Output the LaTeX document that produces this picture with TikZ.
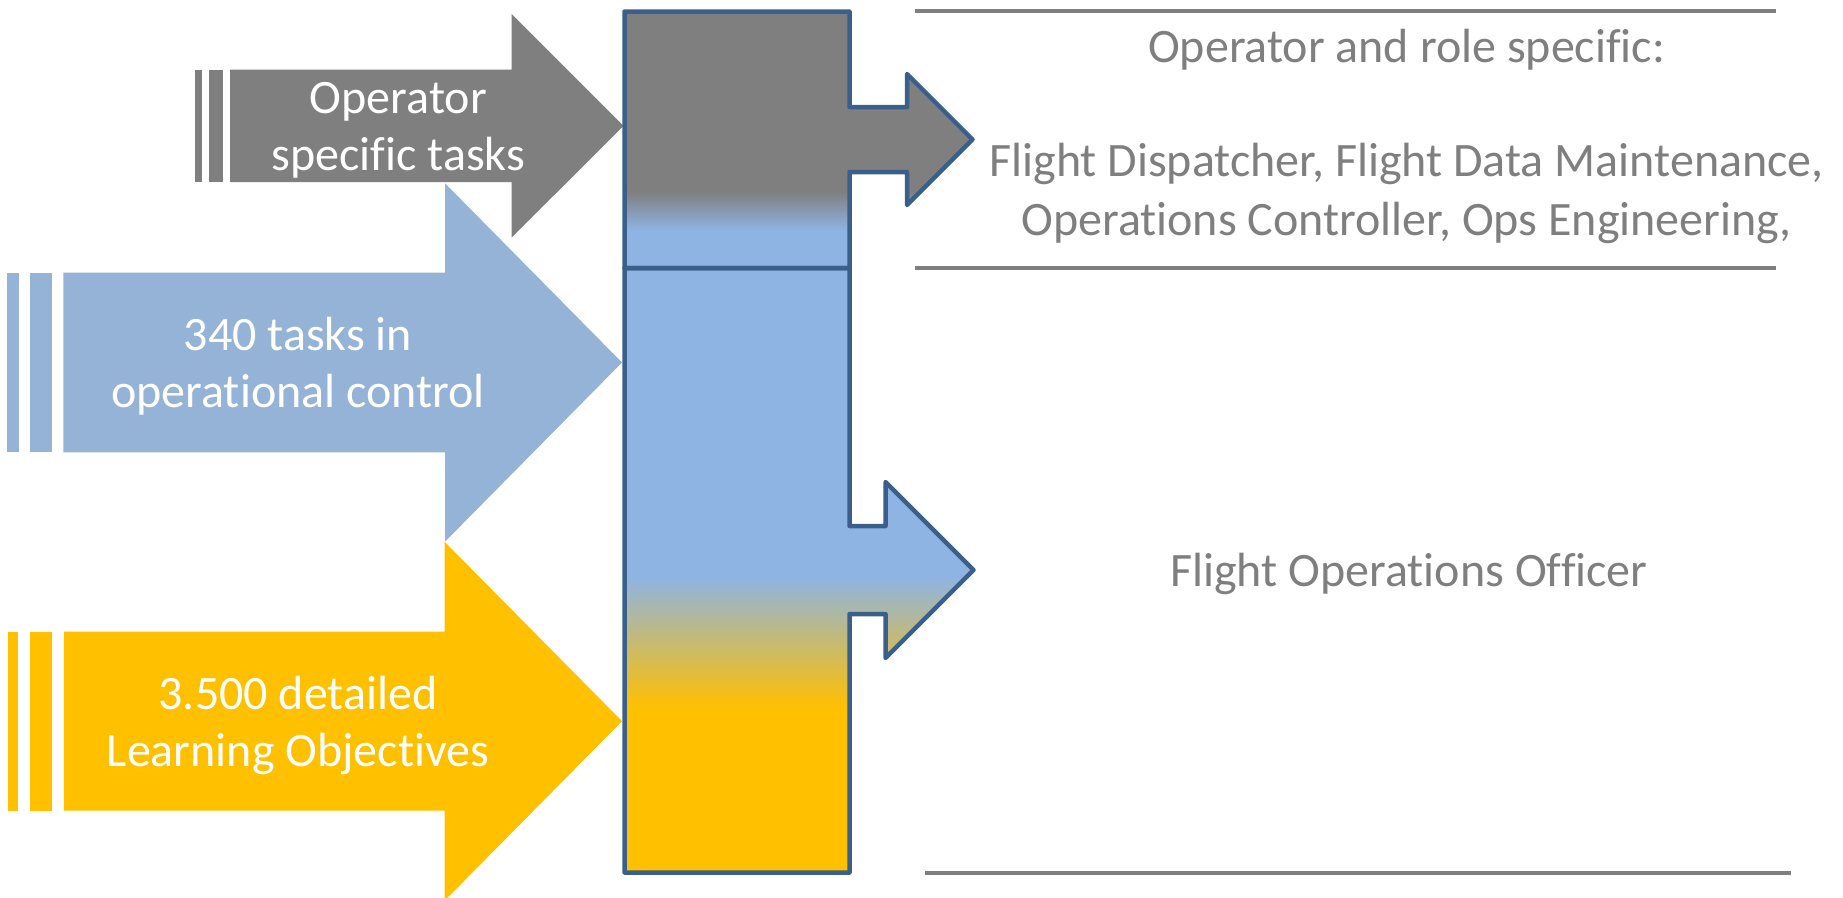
\documentclass[tikz,border=0pt]{standalone}
\usepackage{fontspec}
\setmainfont{Carlito}[Ligatures=NoCommon]
\definecolor{grayA}{HTML}{7F7F7F}
\definecolor{blueA}{HTML}{95B3D7}
\definecolor{colBlue}{HTML}{8EB4E3}
\definecolor{yellowA}{HTML}{FFC000}
\definecolor{outlineC}{HTML}{3A5F8B}
\definecolor{textGray}{HTML}{7F7F7F}
\tikzset{
  lbl/.style={text=white, inner sep=0pt, anchor=base, font=\fontsize{48}{56}\selectfont},
  rtext/.style={text=textGray, inner sep=0pt, anchor=base, font=\fontsize{48}{56}\selectfont},
  colline/.style={draw=outlineC, line width=4.5pt, line join=round},
  rulel/.style={draw=grayA, line width=4pt},
}
\begin{document}
\begin{tikzpicture}[x=1pt,y=-1pt]
\useasboundingbox (0,0) rectangle (1843,897);
\clip (0,0) rectangle (1843,897);
% ---------- left arrows ----------
% gray
\fill[grayA] (194.6,69.5) rectangle (202,182);
\fill[grayA] (208.8,69.5) rectangle (222.9,182);
\fill[grayA] (230.2,69.5) -- (511.6,69.5) -- (511.6,14) -- (623.5,125.8) -- (511.6,237.6) -- (511.6,182) -- (230.2,182) -- cycle;
% blue
\fill[blueA] (7.1,272.7) rectangle (18.75,452.3);
\fill[blueA] (29.9,272.7) rectangle (52.2,452.3);
\fill[blueA] (63.4,272.7) -- (445,272.7) -- (445,183.3) -- (622,362.5) -- (445,541.7) -- (445,452.3) -- (63.4,452.3) -- cycle;
% yellow
\fill[yellowA] (7.7,631.7) rectangle (17.9,810.7);
\fill[yellowA] (30,631.7) rectangle (52.3,810.7);
\fill[yellowA] (63.8,631.7) -- (444.5,631.7) -- (444.5,541.7) -- (622,721.2) -- (444.5,900.7) -- (444.5,810.7) -- (63.8,810.7) -- cycle;
% ---------- column ----------
\def\toppath{(624.5,11.5) -- (849.5,11.5) -- (849.5,107) -- (907,107) -- (907,74) -- (972.5,139.5) -- (907,205) -- (907,172) -- (849.5,172) -- (849.5,268) -- (624.5,268) -- cycle}
\def\botpath{(624.5,268) -- (849.5,268) -- (849.5,526) -- (885.5,526) -- (885.5,482) -- (973.5,570) -- (885.5,658) -- (885.5,614) -- (849.5,614) -- (849.5,872.5) -- (624.5,872.5) -- cycle}
\begin{scope}
  \clip \toppath;
  \fill[grayA] (600,0) rectangle (1000,192);
  \shade[top color=grayA, bottom color=colBlue] (600,191.5) rectangle (1000,230.5);
  \fill[colBlue] (600,230) rectangle (1000,300);
\end{scope}
\begin{scope}
  \clip \botpath;
  \fill[colBlue] (600,250) rectangle (1000,577);
  \shade[top color=colBlue, bottom color=yellowA] (600,576.5) rectangle (1000,707.5);
  \fill[yellowA] (600,707) rectangle (1000,890);
\end{scope}
\draw[colline] \toppath;
\draw[colline] \botpath;
% ---------- right rules ----------
\draw[rulel] (915,10.5) -- (1776,10.5);
\draw[rulel] (915,268) -- (1776,268);
\draw[rulel] (925,872.5) -- (1791,872.5);
% ---------- texts ----------
\node[lbl] (g1) at (398.4,113.3) {Operator};
\node[lbl] (g2) at (398.4,170.3) {specific tasks};
\node[lbl] (b1) at (298,350) {340 tasks in};
\node[lbl] (b2) at (298,407) {operational control};
\node[lbl] (y1) at (298,709.3) {3.500 detailed};
\node[lbl] (y2) at (298,766.5) {Learning Objectives};
\node[rtext] (r1) at (1406.6,62.7) {Operator and role specific:};
\node[rtext] (r2) at (1406.6,176) {Flight Dispatcher, Flight Data Maintenance,};
\node[rtext] (r3) at (1406.6,235) {Operations Controller, Ops Engineering,};
\node[rtext] (r4) at (1409,586) {Flight Operations Officer};
\end{tikzpicture}
\end{document}
